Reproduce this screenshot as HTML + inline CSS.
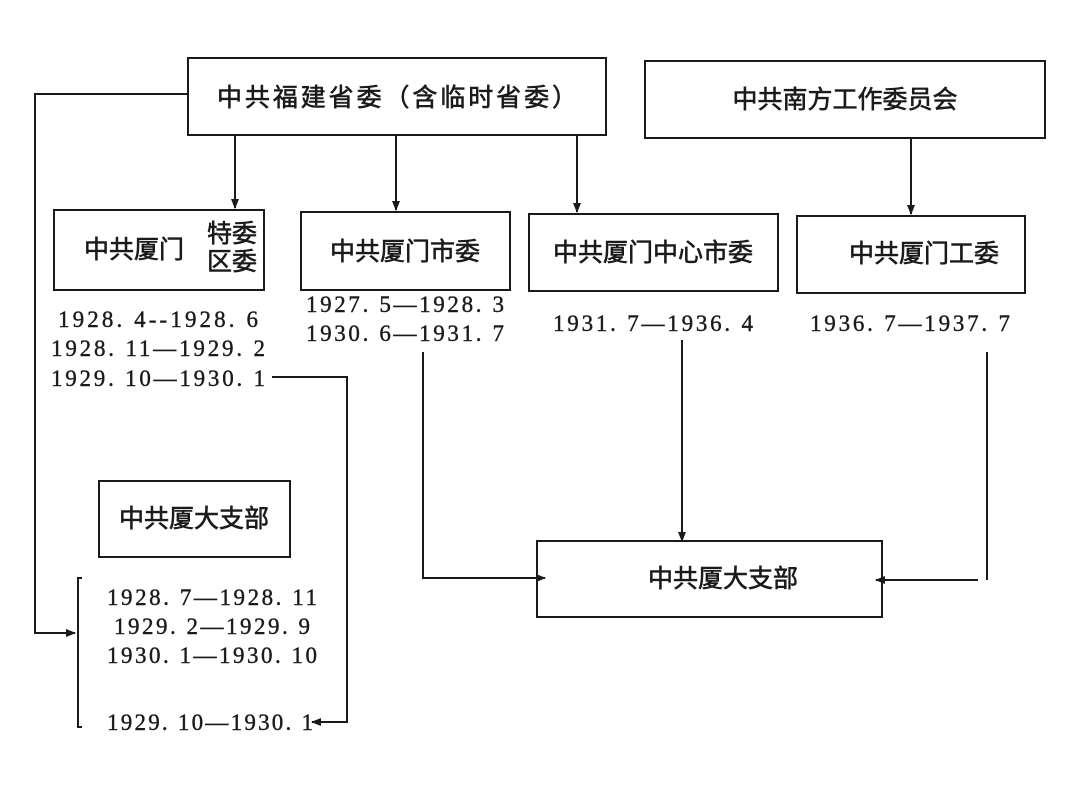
<!DOCTYPE html>
<html><head><meta charset="utf-8"><style>
html,body{margin:0;padding:0;background:#fff;}
svg{display:block;}
.c{font-family:"Liberation Sans","Noto Sans CJK SC",sans-serif;font-size:25px;fill:#1a1a1a;stroke:#1a1a1a;stroke-width:0.6;}
.d{font-family:"Liberation Serif","Noto Serif CJK SC",serif;font-size:23px;fill:#1a1a1a;stroke:#1a1a1a;stroke-width:0.4;}
</style></head><body>
<svg width="1080" height="798" viewBox="0 0 1080 798" xmlns="http://www.w3.org/2000/svg">
<defs><marker id="a" markerWidth="10" markerHeight="10" refX="9" refY="5" orient="auto" markerUnits="userSpaceOnUse"><path d="M0,1 L10,5 L0,9 Z" fill="#1a1a1a"/></marker></defs>
<g fill="none" stroke="#1a1a1a" stroke-width="2">
<rect x="188" y="58" width="418" height="77"/>
<rect x="645" y="61" width="400" height="77"/>
<rect x="54" y="210" width="210" height="80"/>
<rect x="301" y="212" width="209" height="78"/>
<rect x="529" y="214" width="249" height="77"/>
<rect x="797" y="216" width="228" height="77"/>
<rect x="99" y="481" width="191" height="76"/>
<rect x="537" y="541" width="345" height="76"/>
<path d="M235 135 V208" marker-end="url(#a)"/>
<path d="M396 135 V210" marker-end="url(#a)"/>
<path d="M577 135 V212" marker-end="url(#a)"/>
<path d="M911 138 V214" marker-end="url(#a)"/>
<path d="M188 94 H35 V633 H75" marker-end="url(#a)"/>
<path d="M272 377 H347 V722 H312" marker-end="url(#a)"/>
<path d="M423 352 V578 H545" marker-end="url(#a)"/>
<path d="M682 340 V541" marker-end="url(#a)"/>
<path d="M987 352 V580"/>
<path d="M978 580 H876" marker-end="url(#a)"/>
<path d="M82 578 H78 V727 H82"/>
</g>
<text class="c" x="397" y="106" text-anchor="middle" textLength="360">中共福建省委（含临时省委）</text>
<text class="c" x="845" y="108" text-anchor="middle">中共南方工作委员会</text>
<text class="c" x="84" y="258">中共厦门</text>
<text class="c" x="207" y="242" font-size="22">特委</text>
<text class="c" x="207" y="270" font-size="22">区委</text>
<text class="c" x="405" y="260" text-anchor="middle">中共厦门市委</text>
<text class="c" x="653" y="261" text-anchor="middle">中共厦门中心市委</text>
<text class="c" x="924" y="262" text-anchor="middle">中共厦门工委</text>
<text class="c" x="194" y="527" text-anchor="middle">中共厦大支部</text>
<text class="c" x="723" y="587" text-anchor="middle">中共厦大支部</text>
<g class="d">
<text x="158" y="327" text-anchor="middle" textLength="200">1928. 4--1928. 6</text>
<text x="158" y="356" text-anchor="middle" textLength="214">1928. 11—1929. 2</text>
<text x="158" y="386" text-anchor="middle" textLength="214">1929. 10—1930. 1</text>
<text x="405" y="312" text-anchor="middle" textLength="198">1927. 5—1928. 3</text>
<text x="405" y="341" text-anchor="middle" textLength="198">1930. 6—1931. 7</text>
<text x="653" y="331" text-anchor="middle" textLength="200">1931. 7—1936. 4</text>
<text x="910" y="331" text-anchor="middle" textLength="200">1936. 7—1937. 7</text>
<text x="212" y="605" text-anchor="middle" textLength="210">1928. 7—1928. 11</text>
<text x="212" y="634" text-anchor="middle" textLength="196">1929. 2—1929. 9</text>
<text x="212" y="663" text-anchor="middle" textLength="210">1930. 1—1930. 10</text>
<text x="210" y="730" text-anchor="middle" textLength="206">1929. 10—1930. 1</text>
</g>
</svg>
</body></html>
